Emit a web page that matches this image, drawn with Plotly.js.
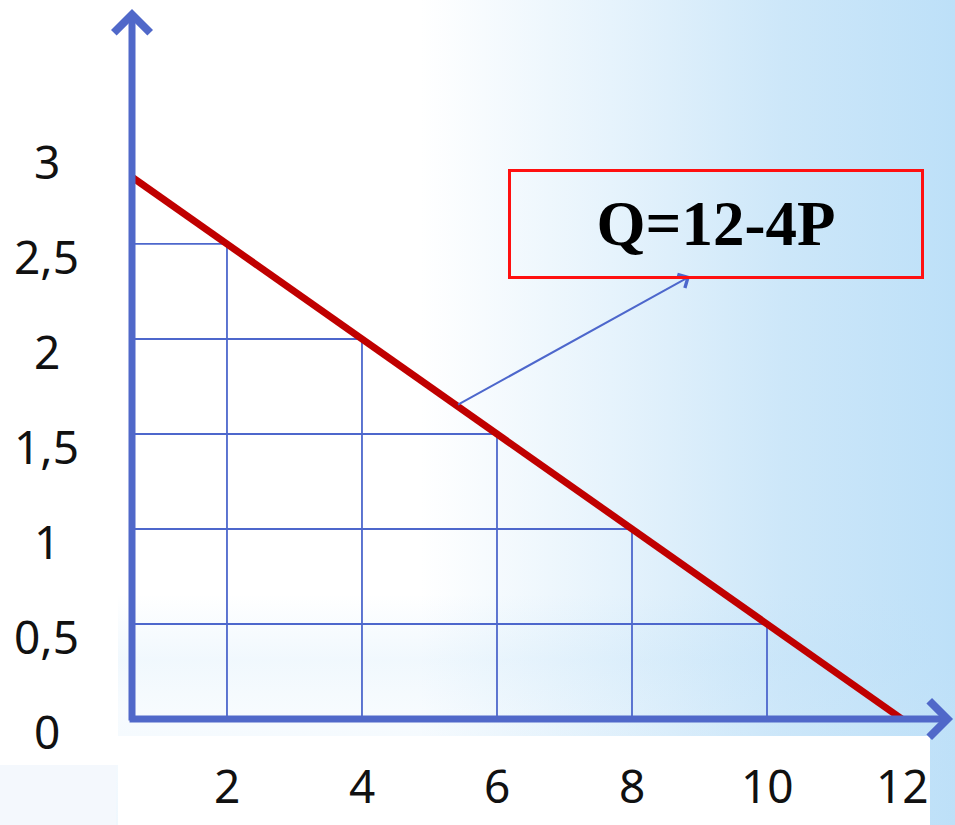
<!DOCTYPE html>
<html>
<head>
<meta charset="utf-8">
<script src="https://cdn.plot.ly/plotly-3.0.1.min.js"></script>
<style>
  html, body { margin: 0; padding: 0; background: #ffffff; }
  #wrap { position: relative; width: 955px; height: 825px; overflow: hidden;
    background:
      linear-gradient(to bottom, rgba(190,224,248,0) 0%, rgba(190,224,248,0) 72%, rgba(190,224,248,0.22) 80%, rgba(200,228,249,0.15) 86%, rgba(190,224,248,0.25) 100%),
      linear-gradient(to right, #ffffff 0%, #ffffff 44%, #e6f3fc 64%, #cde7f9 82%, #bde0f8 100%);
  }
  .blk { position: absolute; }
  #chart { position: absolute; left: 0; top: 0; width: 955px; height: 825px; }
</style>
</head>
<body>
<div id="wrap">
  <div class="blk" style="left:0;top:0;width:118px;height:765px;background:#ffffff;"></div>
  <div class="blk" style="left:118px;top:736px;width:812px;height:89px;background:#ffffff;"></div>
  <div class="blk" style="left:0;top:765px;width:116px;height:60px;background:#f4f8fd;"></div>
  <div id="chart"></div>
</div>
<script>
// ---- data ----
const demandQ = [0, 12];          // quantity at the two ends of Q = 12 - 4P
const demandP = [3, 0];           // price at the two ends
const stepQ = [2, 4, 6, 8, 10];   // quantities of the grid corners
const stepP = [2.5, 2, 1.5, 1, 0.5]; // prices of the grid corners
const xTickVals = [2, 4, 6, 8, 10, 12];
const xTickText = ['2', '4', '6', '8', '10', '12'];
const yTickVals = [0, 0.5, 1, 1.5, 2, 2.5, 3];
const yTickText = ['0', '0,5', '1', '1,5', '2', '2,5', '3'];
const formulaText = 'Q=12-4P';
const pointerTail = [5.4, 1.65];  // point on the demand line
const pointerHead = [8.86, 2.33]; // bottom of the formula box

// ---- build grid segments from the data ----
const vx = [], vy = [], hx = [], hy = [];
stepQ.forEach((q, i) => {
  vx.push(q, q, null); vy.push(0, stepP[i], null);
  hx.push(0, q, null); hy.push(stepP[i], stepP[i], null);
});

const gridColor = '#4d67cc';
const axisColor = '#5068c9';
const labelFont = { family: 'Noto Sans, DejaVu Sans, sans-serif', size: 46, color: '#111111' };

const traces = [
  { x: vx, y: vy, mode: 'lines', line: { color: gridColor, width: 1.8 }, hoverinfo: 'skip', showlegend: false },
  { x: hx, y: hy, mode: 'lines', line: { color: gridColor, width: 1.8 }, hoverinfo: 'skip', showlegend: false },
  { x: demandQ, y: demandP, mode: 'lines', line: { color: '#c00000', width: 7 }, hoverinfo: 'skip', showlegend: false }
];

const annotations = [];
// y axis arrow
annotations.push({ xref: 'paper', yref: 'paper', x: 0, y: 0.9875, ax: 0, ay: 713,
  text: '', showarrow: true, arrowhead: 4, arrowsize: 1.0, arrowwidth: 7, arrowcolor: axisColor, standoff: 0, startstandoff: 0 });
// x axis arrow
annotations.push({ xref: 'paper', yref: 'paper', x: 0.9976, y: 0, ax: -825, ay: 0,
  text: '', showarrow: true, arrowhead: 4, arrowsize: 1.0, arrowwidth: 7, arrowcolor: axisColor, standoff: 0, startstandoff: 0 });
// pointer arrow from line to box
annotations.push({ xref: 'x', yref: 'y', x: pointerHead[0], y: pointerHead[1], axref: 'x', ayref: 'y',
  ax: pointerTail[0], ay: pointerTail[1], text: '', showarrow: true, arrowhead: 4, arrowsize: 1.5, arrowwidth: 2,
  arrowcolor: '#4d67cc', standoff: 0 });
// formula box
annotations.push({ xref: 'paper', yref: 'paper', x: 0.709, y: 0.689, xanchor: 'center', yanchor: 'middle',
  text: '<b>' + formulaText + '</b>', showarrow: false,
  font: { family: 'Liberation Serif, Times New Roman, serif', size: 63, color: '#000000' },
  bordercolor: '#ff1010', borderwidth: 3, borderpad: 0, width: 410, height: 104, bgcolor: 'rgba(0,0,0,0)' });
// y tick labels
yTickVals.forEach((v, i) => {
  annotations.push({ xref: 'paper', yref: 'y', x: -0.1033, y: v, xanchor: 'center', yanchor: 'middle', yshift: -12,
    text: yTickText[i], showarrow: false, font: labelFont });
});
// x tick labels
xTickVals.forEach((v, i) => {
  annotations.push({ xref: 'x', yref: 'paper', x: v, y: 0, xanchor: 'center', yanchor: 'middle', yshift: -66,
    text: xTickText[i], showarrow: false, font: labelFont });
});

const layout = {
  width: 955, height: 825,
  margin: { l: 132, r: 0, t: 0, b: 106, pad: 0 },
  paper_bgcolor: 'rgba(0,0,0,0)', plot_bgcolor: 'rgba(0,0,0,0)',
  showlegend: false,
  xaxis: { range: [0.593, 12.785], showgrid: false, zeroline: false, showline: false, showticklabels: false, ticks: '', fixedrange: true },
  yaxis: { range: [0, 3.784], showgrid: false, zeroline: false, showline: false, showticklabels: false, ticks: '', fixedrange: true },
  annotations: annotations
};

Plotly.newPlot('chart', traces, layout, { displayModeBar: false, staticPlot: true });
</script>
</body>
</html>
